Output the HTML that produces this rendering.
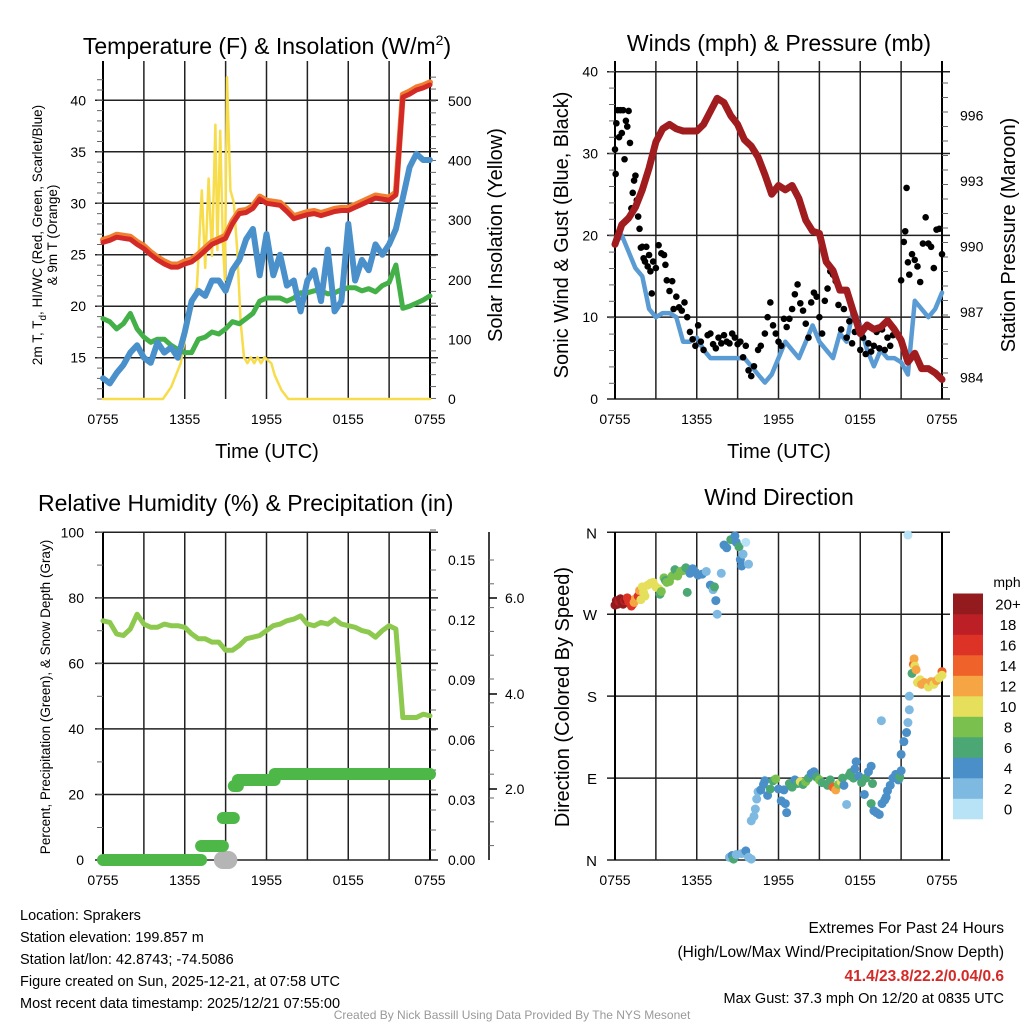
<!DOCTYPE html>
<html><head><meta charset="utf-8"><style>
html,body{margin:0;padding:0;background:#fff}
svg{display:block;font-family:"Liberation Sans",sans-serif}
</style></head><body>
<svg id="s" width="1024" height="1024" viewBox="0 0 1024 1024" xmlns="http://www.w3.org/2000/svg"></svg>
<script>
// ---------- DATA ----------
const hours = [];for(let i=0;i<=48;i++)hours.push(i*0.5);
const xTickLabels = ["0755","1355","1955","0155","0755"];
const tempRed = [26.2,26.4,26.7,26.6,26.5,26.0,25.6,25.0,24.5,24.1,23.8,23.8,24.1,24.3,24.8,25.4,26.0,26.3,26.6,28.0,29.0,29.1,29.5,30.4,30.0,29.9,29.8,29.2,28.5,28.7,28.9,29.0,28.8,29.0,29.2,29.3,29.3,29.6,29.9,30.2,30.5,30.4,30.3,30.8,40.3,40.6,41.0,41.2,41.5];
const dewBlue = [13.0,12.5,13.5,14.3,15.5,16.2,15.0,14.5,16.5,15.5,16.0,15.0,17.5,20.5,21.5,21.0,22.5,22.5,21.5,23.5,24.5,26.5,27.5,23.0,27.0,23.0,25.0,22.0,22.5,19.5,22.5,23.5,20.5,25.5,19.5,20.5,28.0,22.5,24.5,23.5,26.0,25.0,26.0,27.5,30.5,33.5,34.8,34.2,34.2];
const hiGreen = [18.8,18.5,17.8,18.3,19.3,17.8,17.0,16.5,16.8,16.8,16.2,15.8,15.5,15.5,16.8,17.0,17.5,17.3,17.8,18.5,18.3,18.8,19.3,20.5,20.8,20.8,20.8,20.5,20.8,21.3,21.3,21.5,21.5,21.2,21.3,21.6,21.8,21.8,21.5,21.7,21.4,22.0,22.3,24.0,19.8,20.0,20.3,20.6,21.0];
const solarHours = [0,4.4,5.0,5.7,6.0,6.5,6.9,7.25,7.5,7.75,8.0,8.25,8.4,8.6,8.8,8.95,9.1,9.35,9.6,9.85,10.1,10.35,10.6,10.85,11.1,11.35,11.6,11.85,12.35,12.6,13.1,13.6,24];
const solarVals  = [0,0,20,60,100,150,190,350,220,370,240,460,250,450,260,200,540,350,330,250,130,70,60,70,60,70,60,70,60,40,15,0,0];
const windBlue = [19,20,18,16,15,11,10,10.5,10.5,10,7,7,7.5,6,5,5,5,5,5,5,4,3,2,3,5,7,6,5,7,9,7,6,5,8,7,11,9,6,4,6,5,5,4.5,3,12,11,10,11,13];
const pressure = [990.1,991,991.3,991.8,992.6,993.6,994.8,995.4,995.6,995.4,995.3,995.3,995.3,995.6,996.2,996.8,996.6,996.0,995.6,994.9,994.6,994.1,993.3,992.4,992.8,992.6,992.8,992.2,991.2,990.7,990.6,989.3,988.9,988.0,988.0,987.0,986.0,986.4,986.2,986.3,986.6,986.2,985.7,984.7,985.1,984.4,984.4,984.2,983.9];
const gustHours = [0,0.05,0.1,0.2,0.3,0.4,0.5,0.6,0.7,0.8,0.9,1.0,1.1,1.2,1.3,1.4,1.5,1.6,1.7,1.8,1.9,2.0,2.1,2.2,2.3,2.4,2.5,2.6,2.7,2.8,3.0,3.2,3.4,3.6,3.7,3.8,4.0,4.2,4.3,4.5,4.7,4.9,5.1,5.3,5.5,5.7,5.9,6.1,6.3,6.5,6.8,7.0,7.2,7.4,7.6,7.8,8.0,8.2,8.4,8.6,8.8,9.0,9.2,9.4,9.6,9.8,10.0,10.2,10.5,10.7,11,11.2,11.4,11.6,11.8,12.0,12.2,12.4,12.6,12.8,13.0,13.2,13.4,13.6,13.8,14.0,14.2,14.4,14.6,14.8,15.0,15.2,15.4,15.6,15.8,16.0,16.2,16.4,16.6,16.8,17.0,17.2,17.4,17.6,17.8,18.0,18.2,18.4,18.6,18.8,19.0,19.2,19.4,19.6,19.8,20.0,20.2,20.4,21,21.2,21.3,21.4,21.5,21.6,21.8,22,22.2,22.4,22.6,22.8,23,23.2,23.4,23.6,23.8,24];
const gustVals  = [30.5,27.5,33.7,35.3,32,35.3,32.5,35.3,29.3,34,33.3,35.2,31.3,23.3,25.2,26.7,27.3,24.3,22.3,20.8,18.5,18.6,17.2,16.8,18.6,16.2,17.6,15.6,12.9,16.8,16,18.8,17.8,17.6,16.4,14.5,13.2,14.4,11,12.5,11.2,10.8,11.8,10,8.2,7.3,6.5,9,7,6,7.8,8,6.7,6.2,7.5,6.8,7.8,7,6.8,8,7.5,6.7,7,5.1,6.5,3.5,2.8,4,6,6.5,8,10,11.8,9,8,7,6.5,9.8,8.8,9.8,11,12.8,14,11.7,10.8,9.2,7.5,11.8,13,12.5,10,8,12,13.5,15.6,15.2,14.4,11.5,8.5,11,7.5,9.5,6.8,8.2,9.4,6,7.5,5.5,6.8,5.8,6.5,8.2,6.2,8.5,6,7.5,6.5,7.8,14.5,19.2,20.5,25.8,16.7,15.2,17.7,17,16.2,14.3,19,22.2,19,18.6,16,20.7,20.8,17.7];
const rhGreen = [73,72.5,69,68.5,70.5,75,72,71,71,72,71.5,71.5,71,69,67.5,67.5,66.5,66.5,64,64,65.5,67.5,68,68.5,70,71.5,72,73,73.5,74.5,72,71.5,72.5,72,73.5,72,71.5,71,70,69.5,68,70,71.5,70.5,43.5,43.5,43.5,44.5,44];
const precipHours = [0,7.2,7.2,8.8,8.8,9.6,9.6,9.9,9.9,12.6,12.6,24];
const precipVals  = [0,0,0.007,0.007,0.021,0.021,0.037,0.037,0.040,0.040,0.043,0.043];
const snowHours = [8.8,9.0,9.2];
const snowVals  = [0,0,0];
const dirHours = [0,0.1,0.2,0.3,0.4,0.5,0.6,0.7,0.8,0.9,1.0,1.2,1.3,1.4,1.5,1.7,1.8,1.9,2.0,2.1,2.2,2.4,2.6,2.8,3.0,3.2,3.3,3.4,3.6,3.7,3.8,4.0,4.2,4.4,4.6,4.8,5.0,5.2,5.3,5.5,5.7,5.9,6.1,6.4,6.7,7.0,7.2,7.3,7.4,7.5,7.8,8.0,8.2,8.5,8.8,8.9,9.1,9.2,9.3,9.4,9.6,9.8,8.4,8.6,8.7,8.9,9.3,9.6,9.8,10.0,10.0,10.2,10.3,10.4,10.5,10.7,10.9,11,11.2,11.4,11.6,11.8,12.0,12.2,12.4,12.5,12.6,12.8,13.0,13.2,13.4,13.6,13.8,14.0,14.2,14.4,14.6,14.8,15.0,15.2,15.6,15.8,16.0,16.2,16.4,16.6,16.7,16.8,17.0,17.2,17.3,17.5,17.6,17.7,17.9,18.1,18.3,18.4,18.6,18.8,18.8,18.9,19.0,19.2,19.4,19.55,19.6,19.8,19.9,20.0,20.2,20.4,20.6,20.8,20.9,21.0,21.0,21.2,21.4,21.5,21.6,21.6,21.8,21.9,21.95,22.0,22.1,22.2,22.4,22.5,22.7,23.0,23.2,23.4,23.6,23.8,24,24,21.5];
const dirDeg = [280,285,281,284,287,283,281,285,286,288,284,279,281,283,287,290,296,286,300,294,290,302,304,305,300,298,292,295,310,307,305,306,312,319,312,317,318,321,294,315,320,316,313,314,317,302,297,300,285,270,315,346,343,352,356,349,344,330,323,336,349,325,3,5,1,6,7,10,3,1,43,48,56,67,75,77,83,87,71,78,87,89,78,65,77,62,52,84,80,88,84,86,83,86,90,95,97,91,88,85,82,88,80,77,83,86,90,82,61,93,96,90,100,108,92,85,72,90,97,103,62,84,54,52,50,153,62,66,69,76,82,90,94,88,91,98,116,130,140,151,165,180,205,215,221,213,209,195,198,193,195,190,196,193,197,200,207,203,357];
const dirSpeed = [20,20,20,19,20,20,20,19,20,17,16,17,16,13,12,16,13,10,10,11,10,11,10,10,11,10,7,8,8,7,8,8,8,7,8,9,8,7,6,4,4,4,4,4,3,4,3,6,4,2,3,4,5,6,4,4,7,4,4,3,1,3,3,4,7,3,3,4,2,2,2,3,2,2,2,4,4,4,5,7,6,8,4,4,4,4,4,6,6,4,7,10,6,8,6,4,4,7,8,6,6,6,14,12,8,10,6,4,2,6,6,6,4,4,4,6,4,6,4,4,6,6,4,4,4,2,4,4,4,4,4,4,4,4,6,4,4,4,4,2,2,2,6,14,12,10,12,10,10,12,12,10,12,11,12,10,15,10,0];
const cbLabels = ["0","2","4","6","8","10","12","14","16","18","20+"];
const cbColors = ["#b8e2f6","#7eb9e2","#4a8fc8","#4ba774","#79c04e","#e5df5c","#f6a544","#ef6229","#dd3327","#bd1f26","#931b1e"];

// ---------- HELPERS ----------
const NS="http://www.w3.org/2000/svg";const svg=document.getElementById('s');
function mk(tag,attrs,parent){const e=document.createElementNS(NS,tag);for(const k in attrs)e.setAttribute(k,attrs[k]);(parent||svg).appendChild(e);return e;}
function txt(x,y,s,size,opts){opts=opts||{};const t=mk('text',{x:x,y:y,'font-size':size,'text-anchor':opts.anchor||'middle',fill:opts.fill||'#000'});if(opts.weight)t.setAttribute('font-weight',opts.weight);if(opts.rot)t.setAttribute('transform','rotate(-90 '+x+' '+y+')');t.textContent=s;return t;}
const X0=103,X1=430,X0b=615,X1b=942;
function xs(h,left){return left+h*(327/24);}
function lin(d0,d1,r0,r1){return v=>r0+(v-d0)*(r1-r0)/(d1-d0);}
function grid(left,top,bottom,yvals,ysc){
  const g=mk('g',{});
  for(let i=0;i<=8;i++){const x=xs(i*3,left);const l=mk('line',{x1:x,x2:x,y1:top-10,y2:bottom,stroke:'#222','stroke-width':1.5},g);}
  yvals.forEach(v=>{const y=ysc(v);const l=mk('line',{x1:left-8,x2:left+327+8,y1:y,y2:y,stroke:'#222','stroke-width':1.5},g);});
  mk('line',{x1:left,x2:left,y1:top-10,y2:bottom,stroke:'#000','stroke-width':2},g);
  mk('line',{x1:left+327,x2:left+327,y1:top-10,y2:bottom,stroke:'#000','stroke-width':2},g);
  xTickLabels.forEach((s,i)=>{const t=txt(xs(i*6,left),bottom+25,s,14);});
}
function minorTicks(x,dir,y0,y1,step,len){for(let y=y0;y<=y1+0.1;y+=step){mk('line',{x1:x,x2:x+dir*len,y1:y,y2:y,stroke:'#666','stroke-width':1});}}
function path(xsArr,ysArr,fx,fy,attrs){let d='';for(let i=0;i<xsArr.length;i++)d+=(i?'L':'M')+fx(xsArr[i]).toFixed(1)+' '+fy(ysArr[i]).toFixed(1);return mk('path',Object.assign({d:d,fill:'none','stroke-linejoin':'round','stroke-linecap':'round'},attrs));}
function binColor(s){return cbColors[Math.min(10,Math.max(0,Math.floor(s/2)))];}

// ---------- PANEL 1: Temperature ----------
const tY=lin(15,40,357.7,100.3);const sY=lin(0,500,399,101);
grid(X0,71,399,[15,20,25,30,35,40],tY);
minorTicks(X0-6,1,tY(42),399,10.3,6);
minorTicks(X1,1,sY(540),399,11.9,6);
[15,20,25,30,35,40].forEach(v=>{const t=txt(86,tY(v)+5,String(v),14,{anchor:'end'});});
[0,100,200,300,400,500].forEach(v=>{const t=txt(448,sY(v)+5,String(v),14,{anchor:'start'});});
const fx1=h=>xs(h,X0);
let p;
p=path(solarHours,solarVals,fx1,sY,{stroke:'#f7dc4b','stroke-width':2.5});
p=path(hours,hiGreen,fx1,tY,{stroke:'#44b048','stroke-width':5});
p=path(hours,dewBlue,fx1,tY,{stroke:'#4a90cb','stroke-width':6});
p=path(hours,tempRed.map(v=>v+0.25),fx1,tY,{stroke:'#f08030','stroke-width':6});
p=path(hours,tempRed,fx1,tY,{stroke:'#d42a27','stroke-width':5});
(function(){const t=mk('text',{x:267,y:54,'font-size':23,'text-anchor':'middle'});t.innerHTML='Temperature (F) &amp; Insolation (W/m<tspan dy="-9" font-size="14">2</tspan><tspan dy="9">)</tspan>';})();
(function(){const t=mk('text',{x:42,y:235,'font-size':13.5,'text-anchor':'middle',transform:'rotate(-90 42 235)'});t.innerHTML='2m T, T<tspan dy="4" font-size="10">d</tspan><tspan dy="-4">, HI/WC (Red, Green, Scarlet/Blue)</tspan>';})();
p=txt(57,235,'& 9m T (Orange)',13.5,{rot:1});
p=txt(502,235,'Solar Insolation (Yellow)',20,{rot:1});
p=txt(267,458,'Time (UTC)',20);

// ---------- PANEL 2: Winds ----------
const wY=lin(0,40,399,71.7);const pY=lin(984,996,377.3,115.7);
grid(X0b,71,399,[0,10,20,30,40],wY);
minorTicks(X0b-6,1,wY(40),399,16.4,6);
minorTicks(X1b,1,pY(997.5),399,14.5,6);
[0,10,20,30,40].forEach(v=>{const t=txt(598,wY(v)+5,String(v),14,{anchor:'end'});});
[984,987,990,993,996].forEach(v=>{const t=txt(960,pY(v)+5,String(v),14,{anchor:'start'});});
const fx2=h=>xs(h,X0b);
p=path(hours,windBlue,fx2,wY,{stroke:'#5a9bd3','stroke-width':4.5});
gustHours.forEach((h,i)=>{const c=mk('circle',{cx:fx2(h),cy:wY(gustVals[i]),r:3.3,fill:'#000'});});
p=path(hours,pressure,fx2,pY,{stroke:'#a01c1f','stroke-width':7});
p=txt(779,51,'Winds (mph) & Pressure (mb)',23);
p=txt(568,235,'Sonic Wind & Gust (Blue, Black)',20,{rot:1});
p=txt(1015,235,'Station Pressure (Maroon)',20,{rot:1});
p=txt(779,458,'Time (UTC)',20);

// ---------- PANEL 3: RH & Precip ----------
const rY=lin(0,100,860,532.3);const inY=lin(0,0.15,860,560);
grid(X0,542,860,[0,20,40,60,80,100],rY);
minorTicks(X0-6,1,rY(100),860,32.8,6);
minorTicks(X1,1,inY(0.165),860,20,6);
[0,20,40,60,80,100].forEach(v=>{const t=txt(84,rY(v)+5,String(v),14,{anchor:'end'});});
["0.00","0.03","0.06","0.09","0.12","0.15"].forEach((s,i)=>{const t=txt(448,inY(i*0.03)+5,s,14,{anchor:'start'});});
mk('line',{x1:489,x2:489,y1:532,y2:860,stroke:'#000','stroke-width':1.5});
minorTicks(489,1,560,860,23.8,5);
[["2.0",789],["4.0",694],["6.0",598]].forEach(a=>{mk('line',{x1:489,x2:497,y1:a[1],y2:a[1],stroke:'#000','stroke-width':1.5});const t=txt(505,a[1]+5,a[0],14,{anchor:'start'});});
const fx3=h=>xs(h,X0);
p=path(hours,rhGreen,fx3,rY,{stroke:'#8dc94e','stroke-width':5});
snowHours.forEach((h,i)=>{const c=mk('circle',{cx:fx3(h),cy:inY(snowVals[i]),r:9,fill:'#b5b5b5'});});
for(let i=0;i<precipHours.length;i+=2){const l=mk('line',{x1:fx3(precipHours[i]),x2:fx3(precipHours[i+1]),y1:inY(precipVals[i]),y2:inY(precipVals[i+1]),stroke:'#4db848','stroke-width':12,'stroke-linecap':'round'});}
p=txt(38,511,'Relative Humidity (%) & Precipitation (in)',23,{anchor:'start'});
p=txt(50,697,'Percent, Precipitation (Green), & Snow Depth (Gray)',13.5,{rot:1});

// ---------- PANEL 4: Wind Direction ----------
const dY=lin(0,360,860,532.3);
grid(X0b,542,860,[0,90,180,270,360],dY);
[["N",0],["E",90],["S",180],["W",270],["N",360]].forEach(a=>{const t=txt(597,dY(a[1])+6,a[0],15,{anchor:'end'});});
const fx4=h=>xs(h,X0b);
dirHours.forEach((h,i)=>{const c=mk('circle',{cx:fx4(h),cy:dY(dirDeg[i]),r:4.5,fill:binColor(dirSpeed[i])});});
p=txt(779,505,'Wind Direction',23);
p=txt(569,697,'Direction (Colored By Speed)',20,{rot:1});
cbColors.forEach((c,i)=>{const y=819-(i+1)*20.5;const r=mk('rect',{x:953,y:y,width:30,height:20.8,fill:c});
 const t=txt(1008,y+16,cbLabels[i],15);});
p=txt(1007,587,'mph',14);

// ---------- FOOTER TEXT ----------
["Location: Sprakers","Station elevation: 199.857 m","Station lat/lon: 42.8743; -74.5086","Figure created on Sun, 2025-12-21, at 07:58 UTC","Most recent data timestamp: 2025/12/21 07:55:00"].forEach((s,i)=>{const t=txt(20,920+i*22,s,14.5,{anchor:'start'});});
p=txt(1004,933,'Extremes For Past 24 Hours',15.5,{anchor:'end'});
p=txt(1004,957,'(High/Low/Max Wind/Precipitation/Snow Depth)',15.5,{anchor:'end'});
p=txt(1004,981,'41.4/23.8/22.2/0.04/0.6',15.5,{anchor:'end',fill:'#d42a27',weight:'bold'});
p=txt(1004,1003,'Max Gust: 37.3 mph On 12/20 at 0835 UTC',14.5,{anchor:'end'});
p=txt(512,1019,'Created By Nick Bassill Using Data Provided By The NYS Mesonet',12,{fill:'#999'});
</script>
</body></html>
